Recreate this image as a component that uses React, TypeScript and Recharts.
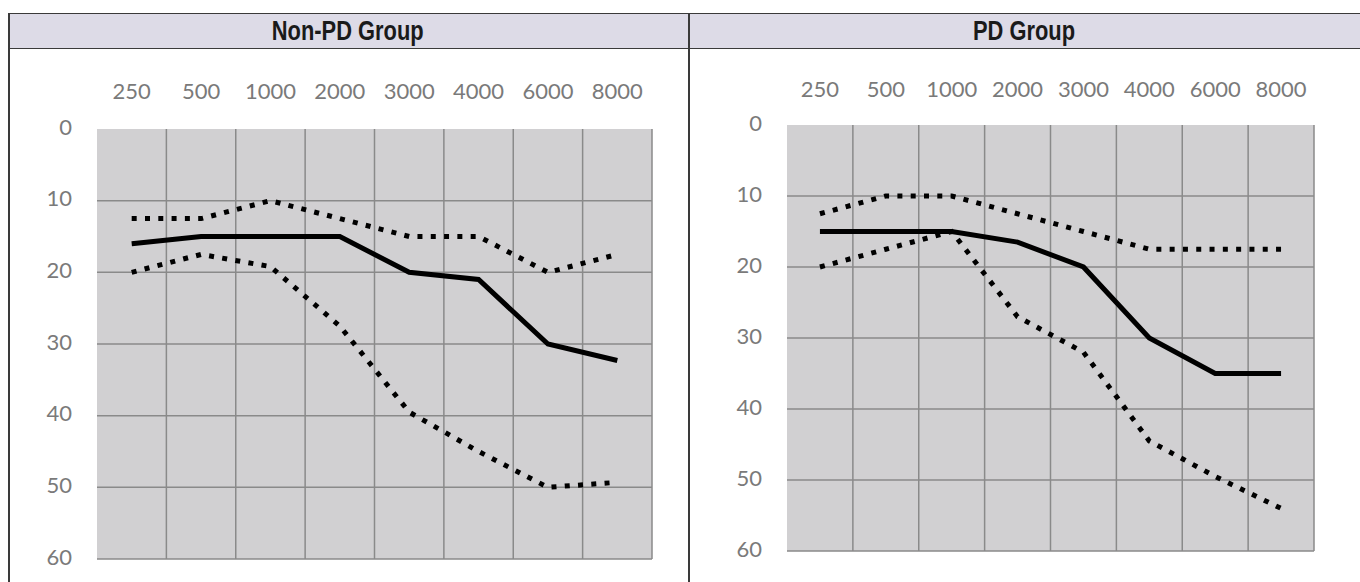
import { LineChart, Line, XAxis, YAxis, CartesianGrid } from "recharts";

// hearing thresholds (dB) per frequency
const frequencies = ["250", "500", "1000", "2000", "3000", "4000", "6000", "8000"];
const yTicks = [0, 10, 20, 30, 40, 50, 60];
const gridRows = [10, 20, 30, 40, 50, 60];
const gridCols = [1, 2, 3, 4, 5, 6, 7, 8];

const nonPdMean = [16, 15, 15, 15, 20, 21, 30, 32.3];
const nonPdUpper = [12.5, 12.5, 10, 12.5, 15, 15, 20, 17.5];
const nonPdLower = [20, 17.5, 19.2, 27.5, 39.5, 45, 50, 49.3];

const pdMean = [15, 15, 15, 16.5, 20, 30, 35, 35];
const pdUpper = [12.5, 10, 10, 12.5, 15, 17.5, 17.5, 17.5];
const pdLower = [20, 17.5, 15, 27, 32, 44.5, 49.5, 54];

const buildRows = (mean: number[], upper: number[], lower: number[]) =>
  frequencies.map((freq, i) => ({
    pos: i + 0.5,
    freq,
    mean: mean[i],
    upper: upper[i],
    lower: lower[i],
  }));

const nonPdData = buildRows(nonPdMean, nonPdUpper, nonPdLower);
const pdData = buildRows(pdMean, pdUpper, pdLower);

const tickStyle = { fontFamily: "Lato, 'Open Sans', sans-serif", fontSize: 22, fill: "#7a7a7a" };
const dotted = "5 8.3";

interface PanelProps {
  data: ReturnType<typeof buildRows>;
  width: number;
  margin: { top: number; right: number; bottom: number; left: number };
  xTickMargin: number;
}

function AudioPanel({ data, width, margin, xTickMargin }: PanelProps) {
  return (
    <LineChart width={width} height={582} data={data} margin={margin}>
      <CartesianGrid
        fill="#d1d0d2"
        fillOpacity={1}
        stroke="#8a8a8a"
        strokeWidth={1.5}
        verticalValues={gridCols}
        horizontalValues={gridRows}
      />
      <XAxis
        dataKey="pos"
        type="number"
        domain={[0, 8]}
        ticks={data.map((d) => d.pos)}
        tickFormatter={(v: number) => frequencies[Math.floor(v)]}
        orientation="top"
        height={40}
        axisLine={false}
        tickLine={false}
        tickSize={0}
        tickMargin={xTickMargin}
        tick={tickStyle}
        interval={0}
      />
      <YAxis
        type="number"
        domain={[0, 60]}
        ticks={yTicks}
        reversed
        width={60}
        axisLine={false}
        tickLine={false}
        tickSize={0}
        tickMargin={25}
        tick={{ ...tickStyle, dy: -2 }}
        interval={0}
      />
      <Line type="linear" dataKey="upper" stroke="#000" strokeWidth={5} strokeDasharray={dotted} dot={false} activeDot={false} isAnimationActive={false} />
      <Line type="linear" dataKey="lower" stroke="#000" strokeWidth={5} strokeDasharray={dotted} dot={false} activeDot={false} isAnimationActive={false} />
      <Line type="linear" dataKey="mean" stroke="#000" strokeWidth={5} dot={false} activeDot={false} isAnimationActive={false} />
    </LineChart>
  );
}

const titleBox: React.CSSProperties = {
  position: "absolute",
  top: 13,
  height: 36,
  lineHeight: "36px",
  textAlign: "center",
};

// condensed bold heading, squeezed horizontally
const titleText: React.CSSProperties = {
  display: "inline-block",
  fontFamily: "'Liberation Sans', Arial, sans-serif",
  fontWeight: 700,
  fontSize: 27,
  color: "#1a1a1a",
  transform: "scaleX(0.81)",
  transformOrigin: "center",
};

export default function App() {
  return (
    <div style={{ position: "absolute", left: 0, top: 0, width: 1360, height: 582, overflow: "hidden", background: "#fff" }}>
      {/* table frame */}
      <div style={{ position: "absolute", left: 8, top: 13, width: 1360, height: 36, background: "#dddbe7", borderTop: "1.5px solid #3a3a3a", borderBottom: "1.5px solid #3a3a3a", boxSizing: "border-box" }} />
      <div style={{ position: "absolute", left: 8, top: 13, width: 1.5, height: 600, background: "#3a3a3a" }} />
      <div style={{ position: "absolute", left: 688, top: 13, width: 1.5, height: 600, background: "#3a3a3a" }} />
      <div style={{ ...titleBox, left: 8, width: 680 }}>
        <span style={titleText}>Non-PD Group</span>
      </div>
      <div style={{ ...titleBox, left: 688, width: 672 }}>
        <span style={titleText}>PD Group</span>
      </div>

      <div style={{ position: "absolute", left: 0, top: 0 }}>
        <AudioPanel data={nonPdData} width={688} margin={{ top: 89, right: 36, bottom: 23, left: 37 }} xTickMargin={30} />
      </div>
      <div style={{ position: "absolute", left: 688, top: 0 }}>
        <AudioPanel data={pdData} width={672} margin={{ top: 85, right: 46, bottom: 31, left: 39 }} xTickMargin={28} />
      </div>
    </div>
  );
}
